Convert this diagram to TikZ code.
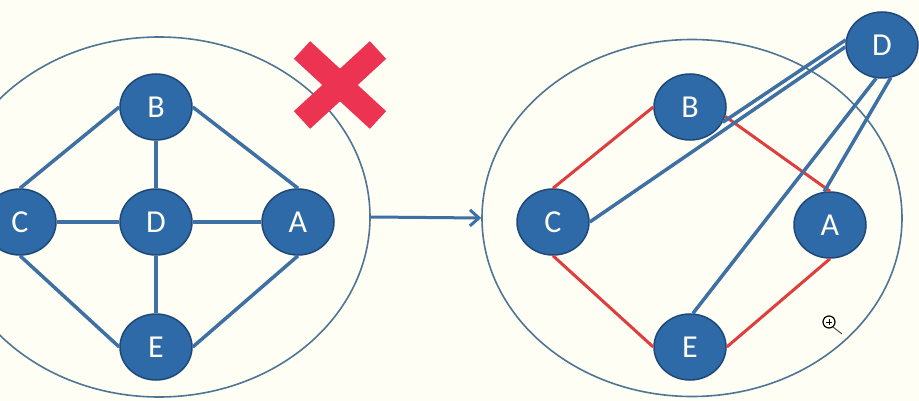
\documentclass[tikz,border=0pt]{standalone}
\usepackage{fontspec}
\setmainfont{Carlito}
\usetikzlibrary{arrows.meta,positioning,shapes.geometric}
\definecolor{paper}{RGB}{254,254,244}
\definecolor{vertexblue}{RGB}{46,106,168}
\definecolor{vertexrim}{RGB}{30,72,120}
\definecolor{linkblue}{RGB}{62,112,164}
\definecolor{ringblue}{RGB}{78,118,148}
\definecolor{cutred}{RGB}{222,62,62}
\definecolor{crossred}{RGB}{236,52,82}
\tikzset{
  vertex/.style={ellipse, draw=vertexrim, line width=1.5pt, fill=vertexblue, text=paper, minimum width=72pt, minimum height=66pt, inner sep=0pt, font=\fontsize{32}{32}\selectfont},
  ring/.style={ellipse, draw=ringblue, line width=1.6pt, inner sep=0pt},
  link/.style={draw=linkblue, line width=3.5pt},
  cut/.style={draw=cutred, line width=3pt},
  flow/.style={-{Straight Barb[length=9pt,width=16pt]}, line width=3pt, draw=linkblue}
}

\begin{document}
\begin{tikzpicture}[x=1pt, y=-1pt]
  \fill[paper] (0,0) rectangle (919,401);
  \useasboundingbox (0,0) rectangle (919,401);
  \clip (0,0) rectangle (919,401);

  % before
  \node[ring, minimum width=422pt, minimum height=360pt] (lring) at (159,217) {};
  \node[vertex] (lb) at (156,107) {B};
  \node[vertex] (lc) at (20,222) {C};
  \node[vertex] (ld) at (156,222) {D};
  \node[vertex] (la) at (298,222) {A};
  \node[vertex] (le) at (156,347) {E};

  \draw[link] (lc.north) -- (lb.west);
  \draw[link] (lb.east) -- (la.north);
  \draw[link] (la.south) -- (le.east);
  \draw[link] (le.west) -- (lc.south);
  \draw[link] (lb.south) -- (ld.north);
  \draw[link] (ld.south) -- (le.north);
  \draw[link] (lc.east) -- (ld.west);
  \draw[link] (ld.east) -- (la.west);

  \draw[crossred, line width=24pt] (302,50) -- (378,120);
  \draw[crossred, line width=24pt] (378,50) -- (302,120);

  % after
  \node[ring, minimum width=420pt, minimum height=357pt] (rring) at (692,218) {};
  \node[vertex] (rb) at (690,107) {B};
  \node[vertex] (rc) at (553,222) {C};
  \node[vertex] (ra) at (830,225) {A};
  \node[vertex] (re) at (690,347) {E};
  \node[vertex] (rd) at (882,45) {D};

  \draw[cut] (rc.north) -- (rb.west);
  \draw[cut] (rb.-15) -- (ra.north);
  \draw[cut] (ra.south) -- (re.east);
  \draw[cut] (re.west) -- (rc.south);

  \draw[link] (rd.172) -- (rb.-25);
  \draw[link] (rd.183) -- (rc.east);
  \draw[link] (rd.-75) -- (ra.100);
  \draw[link] (rd.-100) -- (re.85);

  \draw[flow] (lring.east) -- (rring.west);

  % cursor
  \draw[black, line width=1.2pt] (829,322) circle (6pt);
  \draw[black, line width=1pt] (826,322) -- (832,322) (829,319) -- (829,325);
  \draw[black!70, line width=1pt] (833,327) -- (842,334);
\end{tikzpicture}
\end{document}
